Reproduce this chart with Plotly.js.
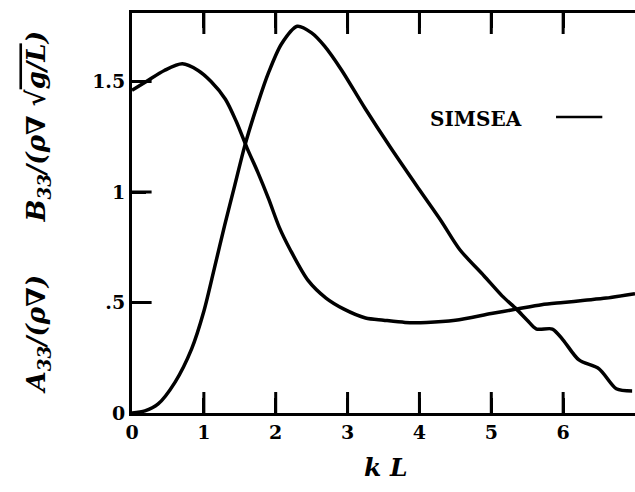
<!DOCTYPE html>
<html>
<head>
<meta charset="utf-8">
<script src="https://cdn.plot.ly/plotly-3.0.1.min.js"></script>
<style>html,body{margin:0;padding:0;background:#fff;}#chart{width:635px;height:492px;}</style>
</head>
<body>
<div id="chart"></div>
<script>
// A33/(rho V) curve
const kL_A = [0, 0.2, 0.45, 0.7, 0.92, 1.1, 1.3, 1.45, 1.6, 1.75, 1.9, 2.05, 2.2, 2.45, 2.7, 2.95, 3.25, 3.5, 3.8, 4.1, 4.5, 5.0, 5.35, 5.7, 6.0, 6.3, 6.6, 7.0];
const A33 = [1.46, 1.50, 1.55, 1.58, 1.55, 1.50, 1.42, 1.32, 1.20, 1.09, 0.97, 0.84, 0.74, 0.60, 0.52, 0.47, 0.43, 0.42, 0.41, 0.41, 0.42, 0.45, 0.47, 0.49, 0.50, 0.51, 0.52, 0.54];
// B33/(rho V sqrt(g/L)) curve
const kL_B = [0, 0.18, 0.36, 0.6, 0.83, 1.0, 1.15, 1.29, 1.43, 1.57, 1.75, 1.9, 2.08, 2.3, 2.5, 2.68, 2.92, 3.24, 3.6, 4.0, 4.3, 4.56, 4.9, 5.15, 5.35, 5.5, 5.63, 5.85, 6.0, 6.22, 6.5, 6.74, 6.96];
const B33 = [0, 0.01, 0.04, 0.14, 0.29, 0.46, 0.66, 0.85, 1.03, 1.21, 1.40, 1.54, 1.67, 1.75, 1.72, 1.66, 1.55, 1.38, 1.20, 1.01, 0.87, 0.74, 0.62, 0.53, 0.47, 0.42, 0.38, 0.38, 0.33, 0.24, 0.20, 0.11, 0.10];

const xTickVals = [0, 1, 2, 3, 4, 5, 6];
const xTickText = ['0', '1', '2', '3', '4', '5', '6'];
const yTickVals = [0, 0.5, 1, 1.5];
const yTickText = ['0', '.5', '1', '1.5'];
const legendLabel = 'SIMSEA';

const xRange = [0, 7];
const yRange = [0, 1.81];

const lineStyle = {color: '#000', width: 3.5, shape: 'spline', smoothing: 0.8};
// tick marks as clipped line markers (only the inner half remains visible)
const tickMarkX = {symbol: 'line-ns-open', size: 30, color: '#000', line: {color: '#000', width: 3}};
const tickMarkY = {symbol: 'line-ew-open', size: 28, color: '#000', line: {color: '#000', width: 3}};
const data = [
  {x: kL_A, y: A33, type: 'scatter', mode: 'lines', line: lineStyle, showlegend: false, hoverinfo: 'skip'},
  {x: kL_B, y: B33, type: 'scatter', mode: 'lines', line: lineStyle, showlegend: false, hoverinfo: 'skip'},
  {x: xTickVals.slice(1), y: xTickVals.slice(1).map(() => yRange[0]), type: 'scatter', mode: 'markers',
   marker: tickMarkX, cliponaxis: true, showlegend: false, hoverinfo: 'skip'},
  {x: xTickVals.slice(1), y: xTickVals.slice(1).map(() => yRange[1]), type: 'scatter', mode: 'markers',
   marker: tickMarkX, cliponaxis: true, showlegend: false, hoverinfo: 'skip'},
  {x: yTickVals.slice(1).map(() => xRange[0]), y: yTickVals.slice(1), type: 'scatter', mode: 'markers',
   marker: tickMarkY, cliponaxis: true, showlegend: false, hoverinfo: 'skip'}
];

const tickFont = {family: 'DejaVu Serif', size: 19, color: '#000', weight: 'bold'};
const layout = {
  width: 635, height: 492,
  margin: {l: 132, r: 0, t: 13, b: 79},
  paper_bgcolor: '#fff', plot_bgcolor: '#fff',
  showlegend: false,
  xaxis: {
    range: xRange, tickvals: xTickVals, ticktext: xTickText,
    ticks: 'inside', ticklen: 15, tickwidth: 3, tickcolor: '#000',
    showline: true, linewidth: 3, linecolor: '#000', mirror: 'allticks',
    showgrid: false, zeroline: false, tickfont: tickFont
  },
  yaxis: {
    range: yRange, tickvals: yTickVals, ticktext: yTickText,
    ticks: 'inside', ticklen: 14, tickwidth: 3, tickcolor: '#000',
    showline: true, linewidth: 3, linecolor: '#000', mirror: false,
    showgrid: false, zeroline: false, tickfont: tickFont
  },
  annotations: [
    {xref: 'paper', yref: 'paper', x: 0.505, y: -0.095, xanchor: 'center', yanchor: 'top',
     text: '<b><i>k L</i></b>', showarrow: false,
     font: {family: 'DejaVu Serif', size: 25, color: '#000'}},
    {xref: 'paper', yref: 'paper', x: -0.188, y: 0.195, xanchor: 'center', yanchor: 'middle', textangle: -90,
     text: '<b><i>A<sub>33</sub>/(ρ∇)</i></b>', showarrow: false,
     font: {family: 'DejaVu Serif', size: 26, color: '#000'}},
    {xref: 'paper', yref: 'paper', x: -0.188, y: 0.715, xanchor: 'center', yanchor: 'middle', textangle: -90,
     text: '<b><i>B<sub>33</sub>/(ρ∇ √<span style="text-decoration:overline">g/L</span>)</i></b>', showarrow: false,
     font: {family: 'DejaVu Serif', size: 26, color: '#000'}},
    {xref: 'paper', yref: 'paper', x: 0.684, y: 0.735, xanchor: 'center', yanchor: 'middle',
     text: '<b>' + legendLabel + '</b>', showarrow: false,
     font: {family: 'DejaVu Serif', size: 20, color: '#000'}}
  ],
  shapes: [
    {type: 'line', xref: 'paper', yref: 'paper', x0: 0.843, x1: 0.935, y0: 0.74, y1: 0.74,
     line: {color: '#000', width: 2.5}}
  ]
};
Plotly.newPlot('chart', data, layout, {staticPlot: true});
</script>
</body>
</html>
